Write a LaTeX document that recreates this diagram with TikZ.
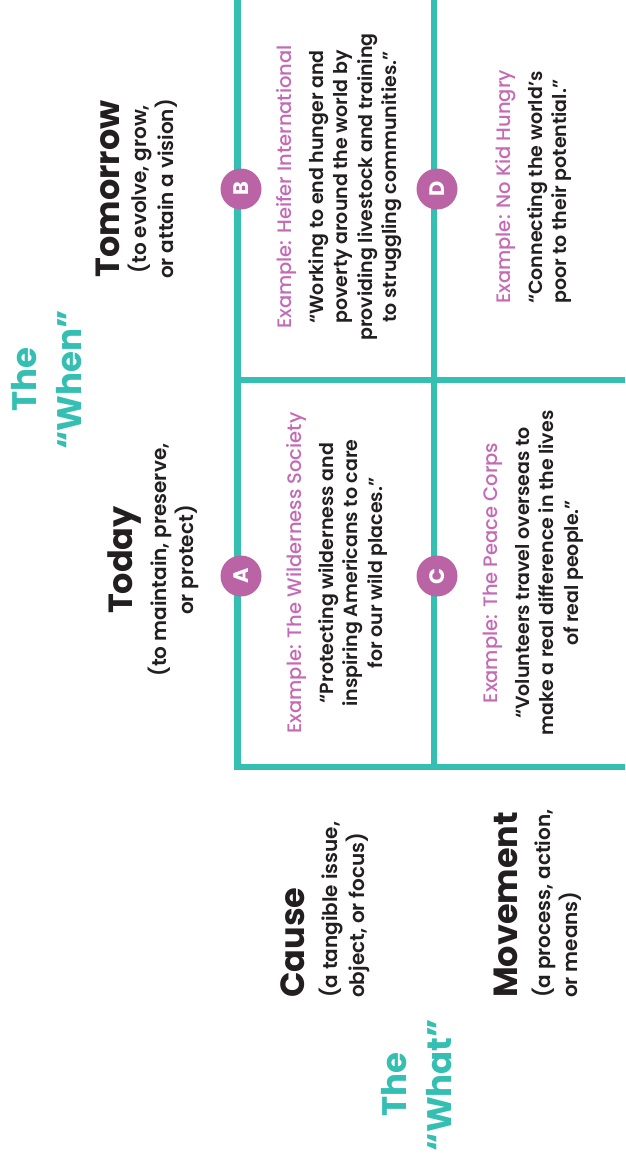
\documentclass[tikz,border=0pt]{standalone}
\usepackage{fontspec}
\setmainfont{Poppins}
\newfontfamily\semib{Poppins SemiBold}
\newfontfamily\medf{Poppins Medium}
\definecolor{gridteal}{RGB}{52,191,178}
\definecolor{badgepink}{RGB}{186,100,166}
\definecolor{expink}{RGB}{197,106,181}
\definecolor{ink}{RGB}{35,31,32}

\begin{document}
\begin{tikzpicture}[x=1pt, y=-1pt]
        \tikzset{
            gridline/.style={draw=gridteal, line width=6.5pt},
            badge/.style={circle, fill=badgepink, text=white, minimum size=41pt, inner sep=0pt, rotate=90, font=\bfseries\fontsize{21}{21}\selectfont},
            head/.style={rotate=90, inner sep=0pt, text=ink, font=\bfseries\fontsize{33.5}{36}\selectfont},
            sub/.style={rotate=90, inner sep=0pt, align=center, text=ink, font=\semib\fontsize{20}{27}\selectfont},
            axis/.style={rotate=90, inner sep=0pt, align=center, text=gridteal, font=\bfseries\fontsize{34}{45}\selectfont},
            exlabel/.style={rotate=90, inner sep=0pt, text=expink, font=\medf\fontsize{19.5}{20}\selectfont},
            quotetext/.style={rotate=90, inner sep=0pt, align=center, text=ink, font=\semib\fontsize{19}{24.5}\selectfont}
        }
        \useasboundingbox (0,0) rectangle (625,1162);

        % grid
        \coordinate (tl) at (237.5,0);
        \coordinate (tm) at (434,0);
        \coordinate (ml) at (237.5,380);
        \coordinate (mr) at (625,380);
        \coordinate (bl) at (237.5,767);
        \coordinate (bm) at (434,767);
        \coordinate (br) at (625,767);
        \draw[gridline] (tl) -- (bl) -- (br);
        \draw[gridline] (tm) -- (bm);
        \draw[gridline] (ml) -- (mr);

        % axis titles
        \node (when) [axis] at (47,380) {The\\“When”};
        \node (what) [axis] at (417,1085) {The\\“What”};

        % column heads
        \node (tmw) [head] at (108,189) {Tomorrow};
        \node (tmwsub) [sub, anchor=north] at ([xshift=8]tmw.south) {(to evolve, grow,\\or attain a vision)};
        \node (tdy) [head] at (124.5,560) {Today};
        \node (tdysub) [sub, anchor=north] at ([xshift=6]tdy.south) {(to maintain, preserve,\\or protect)};

        % row heads
        \node (cause) [head, anchor=west] at (293,998) {Cause};
        \node (causesub) [sub, align=left, anchor=north west] at ([xshift=14]cause.south west) {(a tangible issue,\\object, or focus)};
        \node (mvmt) [head, anchor=west] at (506,998) {Movement};
        \node (mvmtsub) [sub, align=left, anchor=north west] at ([xshift=14]mvmt.south west) {(a process, action,\\or means)};

        % cells
        \node (exA) [exlabel] at (297,573) {Example: The Wilderness Society};
        \node (qA) [quotetext, anchor=north] at ([xshift=11]exA.south) {“Protecting wilderness and\\inspiring Americans to care\\for our wild places.”};
        \node (exB) [exlabel] at (287,187) {Example: Heifer International};
        \node (qB) [quotetext, anchor=north] at ([xshift=11]exB.south) {“Working to end hunger and\\poverty around the world by\\providing livestock and training\\to struggling communities.”};
        \node (exC) [exlabel] at (493,573) {Example: The Peace Corps};
        \node (qC) [quotetext, anchor=north] at ([xshift=12]exC.south) {“Volunteers travel overseas to\\make a real difference in the lives\\of real people.”};
        \node (exD) [exlabel, anchor=west] at (506,304) {Example: No Kid Hungry};
        \node (qD) [quotetext, align=left, anchor=north west] at ([xshift=11]exD.south west) {“Connecting the world’s\\poor to their potential.”};

        % badges
        \node (bA) [badge] at (241,576) {A};
        \node (bB) [badge] at (241,189) {B};
        \node (bC) [badge] at (437,576) {C};
        \node (bD) [badge] at (437,189) {D};
\end{tikzpicture}
\end{document}
